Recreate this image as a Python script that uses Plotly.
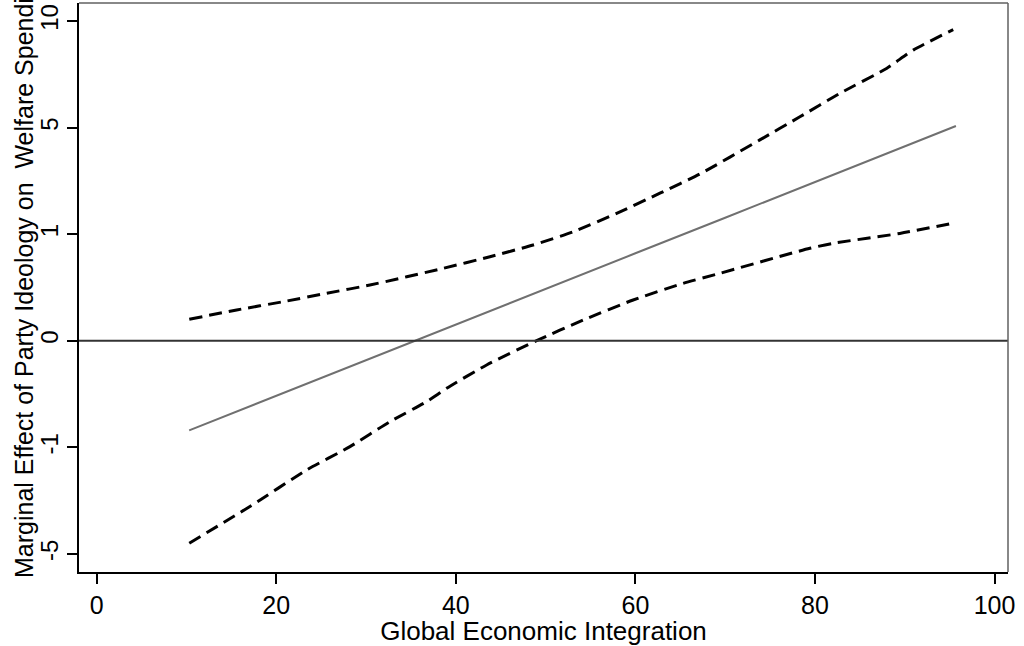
import numpy as np
import plotly.graph_objects as go

# ---- data ----
# y-axis tick labels are equally spaced (ordinal-like scale)
y_tick_values = [-5, -1, 0, 1, 5, 10]
x_tick_values = [0, 20, 40, 60, 80, 100]

mid_x = [10.3, 20, 30, 40, 50, 60, 70, 80, 90, 95.7]
mid_y = [-0.841, -0.518, -0.183, 0.152, 0.487, 0.821, 1.62, 2.96, 4.30, 5.08]

upper_x = [10.31, 15.59, 20.78, 25.61, 30.43, 38.60, 43.80, 48.62, 53.07,
           57.91, 62.73, 67.18, 73.86, 78.32, 82.77, 87.97, 90.94, 95.4]
upper_y = [0.202, 0.289, 0.367, 0.446, 0.523, 0.680, 0.789, 0.899, 1.09,
           1.78, 2.54, 3.26, 4.54, 5.51, 6.61, 7.78, 8.64, 9.60]

lower_x = [10.31, 17.07, 23.39, 28.21, 32.66, 36.75, 38.98, 43.43, 49.00, 54.19,
           59.75, 65.32, 69.41, 79.43, 82.03, 89.45, 95.6]
lower_y = [-4.60, -3.22, -1.85, -0.993, -0.759, -0.571, -0.446, -0.227, 0.001, 0.195,
           0.383, 0.539, 0.633, 0.868, 0.915, 1.03, 1.43]

x_title = "Global Economic Integration"
y_title = "Marginal Effect of Party Ideology on\u00a0 Welfare Spending"

# ---- scale: map tick values to equally spaced positions ----
tick_pos = np.arange(len(y_tick_values))


def to_pos(v):
    return np.interp(v, y_tick_values, tick_pos)


FONT = "Liberation Sans, Arial, sans-serif"
DASH = dict(color="black", width=3, dash="13px,7px")

fig = go.Figure()
fig.add_hline(y=float(to_pos(0)), line=dict(color="#333333", width=2))
fig.add_trace(go.Scatter(x=upper_x, y=to_pos(upper_y), mode="lines",
                         line=dict(**DASH, shape="spline", smoothing=0.6),
                         showlegend=False))
fig.add_trace(go.Scatter(x=lower_x, y=to_pos(lower_y), mode="lines",
                         line=dict(**DASH, shape="spline", smoothing=0.6),
                         showlegend=False))
fig.add_trace(go.Scatter(x=mid_x, y=to_pos(mid_y), mode="lines",
                         line=dict(color="#707070", width=2),
                         showlegend=False))

# top and right frame lines (gray)
fig.add_shape(type="line", xref="paper", yref="paper", x0=0, x1=1, y0=1, y1=1,
              line=dict(color="#606060", width=1.5))
fig.add_shape(type="line", xref="paper", yref="paper", x0=1, x1=1, y0=0, y1=1,
              line=dict(color="#606060", width=1.5))

# y-axis title (placed as annotation, slightly above plot centre as in reference)
fig.add_annotation(text=y_title, textangle=-90, showarrow=False,
                   xref="paper", yref="paper", x=-0.059, y=0.524,
                   xanchor="center", yanchor="middle",
                   font=dict(family=FONT, size=25, color="black"))

fig.update_layout(
    width=1024, height=646,
    margin=dict(l=79, r=16, t=3, b=74),
    paper_bgcolor="white", plot_bgcolor="white",
    font=dict(family=FONT, size=25, color="black"),
    xaxis=dict(
        range=[-1.97, 101.5], tickmode="array", tickvals=x_tick_values,
        ticks="outside", ticklen=10, tickwidth=1.5, tickcolor="black",
        showline=True, linecolor="black", linewidth=1.5,
        showgrid=False, zeroline=False,
        tickfont=dict(size=25),
        title=dict(text=x_title, font=dict(size=26), standoff=0),
    ),
    yaxis=dict(
        range=[-0.17, 5.17], tickmode="array", tickvals=list(tick_pos),
        ticktext=[str(v) for v in y_tick_values], tickangle=-90,
        ticks="outside", ticklen=10, tickwidth=1.5, tickcolor="black",
        showline=True, linecolor="black", linewidth=1.5,
        showgrid=False, zeroline=False,
        tickfont=dict(size=24),
    ),
)

fig.write_html("out.html")
